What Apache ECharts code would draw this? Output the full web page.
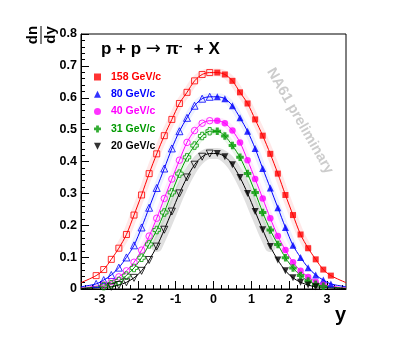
<!DOCTYPE html>
<html>
<head>
<meta charset="utf-8">
<script src="https://cdn.jsdelivr.net/npm/echarts@6/dist/echarts.min.js"></script>
<style>
html,body{margin:0;padding:0;background:#fff}
#chart{width:407px;height:340px}
</style>
</head>
<body>
<div id="chart"></div>
<script>
// rapidity bin centres, only y>0 is measured, y<0 is drawn as the reflection
var yBins = [0.1, 0.3, 0.5, 0.7, 0.9, 1.1, 1.3, 1.5, 1.7, 1.9, 2.1, 2.3, 2.5, 2.7, 2.9, 3.1];
var energies = ['158 GeV/c', '80 GeV/c', '40 GeV/c', '31 GeV/c', '20 GeV/c'];
// dn/dy values
var dn158 = [0.679, 0.673, 0.653, 0.617, 0.582, 0.532, 0.481, 0.424, 0.362, 0.295, 0.232, 0.171, 0.128, 0.093, 0.061, 0.042];
var dn80 = [0.603, 0.597, 0.575, 0.537, 0.495, 0.441, 0.378, 0.317, 0.255, 0.193, 0.137, 0.099, 0.067, 0.044, 0.028, 0.016];
var dn40 = [0.528, 0.520, 0.497, 0.460, 0.404, 0.345, 0.284, 0.222, 0.166, 0.122, 0.084, 0.057, 0.038, 0.023, 0.013];
var dn31 = [0.495, 0.480, 0.450, 0.413, 0.362, 0.303, 0.240, 0.185, 0.140, 0.098, 0.066, 0.042, 0.025, 0.015, 0.009];
var dn20 = [0.425, 0.415, 0.390, 0.350, 0.300, 0.243, 0.186, 0.133, 0.091, 0.057, 0.035, 0.021, 0.0125, 0.007];
// fit curve at the frame edge |y| = 3.5
var edgeVal = [0.02, 0.007, 0.003, 0.002, 0.001];
var xMajor = [-3, -2, -1, 0, 1, 2, 3];

var allData = [dn158, dn80, dn40, dn31, dn20];
var colors = ['#ff0000', '#0000ff', '#ff00ff', '#009900', '#000000'];
var bandColors = ['rgba(255,0,0,0.09)', 'rgba(30,80,255,0.08)', 'rgba(255,0,255,0.08)', 'rgba(0,150,0,0.08)', 'rgba(0,0,0,0.12)'];
var symbols = ['rect', 'triangle', 'circle', 'path://M3,0H7V3H10V7H7V10H3V7H0V3H3Z', 'path://M0,0H10L5,10Z'];
var sizes = [6, 7, 6.5, 7.5, 7];
var bandWidth = [8, 7, 7, 7, 11];

var xMinor = [];
for (var t = -34; t <= 34; t += 2) xMinor.push(t / 10);

var font = 'Liberation Sans';
var series = [];
for (var i = 0; i < allData.length; i++) {
    var vals = allData[i];
    var pos = [], neg = [], curve = [];
    for (var k = 0; k < vals.length; k++) {
        pos.push([yBins[k], vals[k]]);
        neg.push([-yBins[k], vals[k]]);
    }
    curve.push([-3.5, edgeVal[i]]);
    for (k = neg.length - 1; k >= 0; k--) curve.push(neg[k]);
    for (k = 0; k < pos.length; k++) curve.push(pos[k]);
    curve.push([3.5, edgeVal[i]]);
    var band = curve.filter(function (p) { return p[1] > 0.1; });

    series.push({
        type: 'line', data: band, smooth: 0.3, symbol: 'none', silent: true, z: 1,
        lineStyle: {color: bandColors[i], width: bandWidth[i], cap: 'round', join: 'round'}
    });
    series.push({
        type: 'line', data: curve, smooth: 0.3, symbol: 'none', silent: true, z: 2,
        lineStyle: {color: colors[i], width: 1}
    });
    series.push({
        type: 'scatter', data: neg, symbol: symbols[i], symbolSize: sizes[i], z: 3,
        itemStyle: {color: 'rgba(0,0,0,0)', borderColor: colors[i], borderWidth: 1}
    });
    series.push({
        name: energies[i], type: 'scatter', data: pos, symbol: symbols[i], symbolSize: sizes[i], z: 4,
        itemStyle: {color: colors[i]}
    });
}

var legendData = [];
for (i = 0; i < energies.length; i++) {
    legendData.push({name: energies[i], icon: symbols[i], textStyle: {color: colors[i]}});
}

var chart = echarts.init(document.getElementById('chart'));
var option = {
    animation: false,
    backgroundColor: '#fff',
    grid: {left: 81, right: 61, top: 34, bottom: 51, show: true, borderColor: '#000', borderWidth: 1},
    legend: {
        orient: 'vertical', left: 89, top: 66, itemWidth: 7, itemHeight: 7, itemGap: 5.3,
        selectedMode: false, data: legendData,
        textStyle: {fontFamily: font, fontWeight: 'bold', fontSize: 10.5, lineHeight: 12, padding: [0, 0, 0, 5]}
    },
    xAxis: [{
        type: 'value', min: -3.5, max: 3.5,
        axisLine: {onZero: false, lineStyle: {color: '#000'}},
        axisTick: {inside: true, length: 8, customValues: xMajor, lineStyle: {color: '#000'}},
        axisLabel: {customValues: xMajor, margin: 4, color: '#000', fontFamily: font, fontWeight: 'bold', fontSize: 12.5},
        splitLine: {show: false}
    }, {
        type: 'value', min: -3.5, max: 3.5, position: 'bottom',
        axisLine: {show: false, onZero: false},
        axisTick: {inside: true, length: 4, customValues: xMinor, lineStyle: {color: '#000'}},
        axisLabel: {show: false},
        splitLine: {show: false}
    }],
    yAxis: {
        type: 'value', min: 0, max: 0.8, interval: 0.1,
        axisLine: {show: true, onZero: false, lineStyle: {color: '#000'}},
        axisTick: {show: true, inside: true, length: 8, lineStyle: {color: '#000'}},
        minorTick: {show: true, splitNumber: 5, length: 4, lineStyle: {color: '#000'}},
        axisLabel: {margin: 4, color: '#000', fontFamily: font, fontWeight: 'bold', fontSize: 12.5},
        splitLine: {show: false}
    },
    graphic: [{
        type: 'group', x: 41, y: 35, rotation: Math.PI / 2,
        children: [
            {type: 'text', style: {text: 'dn', x: 0, y: -1, align: 'center', verticalAlign: 'bottom',
                fontFamily: font, fontWeight: 'bold', fontSize: 15, fill: '#000'}},
            {type: 'line', shape: {x1: -9, y1: 0, x2: 9, y2: 0}, style: {stroke: '#000', lineWidth: 1}},
            {type: 'text', style: {text: 'dy', x: 0, y: 2, align: 'center', verticalAlign: 'top',
                fontFamily: font, fontWeight: 'bold', fontSize: 15, fill: '#000'}}
        ]
    }, {
        type: 'text', x: 101, y: 40,
        style: {
            text: '{a|p + p }{r|→}{a| π}{s|-}{a|  + X}',
            fill: '#000',
            rich: {
                a: {fontFamily: font, fontWeight: 'bold', fontSize: 17, fill: '#000'},
                r: {fontFamily: 'DejaVu Sans', fontSize: 18, fill: '#000'},
                s: {fontFamily: font, fontWeight: 'bold', fontSize: 11, fill: '#000', padding: [0, 2, 7, 0]}
            }
        }
    }, {
        type: 'text', x: 300, y: 121, rotation: -Math.PI / 3,
        style: {text: 'NA61 preliminary', x: 0, y: 0, align: 'center', verticalAlign: 'middle',
            fontFamily: font, fontWeight: 'bold', fontSize: 14.5, fill: '#cccccc'}
    }, {
        type: 'text', x: 346, y: 305,
        style: {text: 'y', align: 'right', verticalAlign: 'top', fontFamily: font, fontWeight: 'bold', fontSize: 20, fill: '#000'}
    }],
    series: series
};
chart.setOption(option);
</script>
</body>
</html>
